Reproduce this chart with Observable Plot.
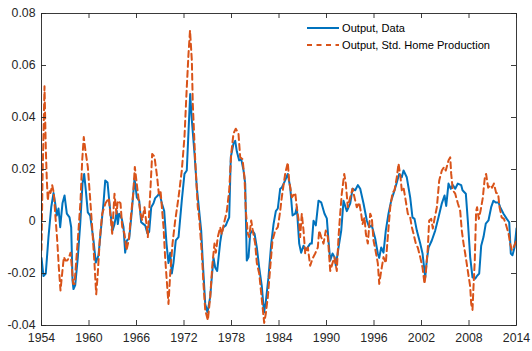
<!DOCTYPE html>
<html>
<head>
<meta charset="utf-8">
<script src="https://cdn.jsdelivr.net/npm/d3@7"></script>
<script src="https://cdn.jsdelivr.net/npm/@observablehq/plot@0.6"></script>
<style>
  html, body { margin: 0; padding: 0; background: #fff; }
  #wrap { position: relative; width: 532px; height: 351px; }
  #legend { position: absolute; left: 306px; top: 19px; font-family: "Liberation Sans", Arial, sans-serif; font-size: 11.1px; color: #000; }
  #legend .row { display: flex; align-items: center; height: 17px; }
  #legend svg { display: block; margin-right: 2px; }
</style>
</head>
<body>
<div id="wrap"><div id="legend"></div></div>
<script>
// Series: Output, Data (year, deviation)
const dataYears = [1954.00,1954.25,1954.54,1954.88,1955.23,1955.52,1955.73,1955.93,1956.15,1956.36,1956.65,1956.91,1957.20,1957.54,1957.75,1957.92,1958.04,1958.26,1958.59,1958.89,1959.18,1959.39,1959.60,1959.85,1960.15,1960.57,1960.86,1961.20,1961.54,1961.83,1962.05,1962.34,1962.68,1962.97,1963.22,1963.51,1963.64,1963.81,1964.14,1964.36,1964.57,1964.78,1965.08,1965.41,1965.75,1966.04,1966.34,1966.59,1966.88,1967.10,1967.39,1967.60,1967.86,1968.15,1968.36,1968.69,1968.91,1969.20,1969.50,1969.79,1970.04,1970.26,1970.46,1970.67,1970.96,1971.31,1971.72,1972.06,1972.35,1972.78,1972.99,1973.33,1973.62,1973.92,1974.17,1974.38,1974.68,1974.97,1975.31,1975.51,1975.73,1975.94,1976.19,1976.57,1976.78,1976.99,1977.28,1977.53,1977.71,1977.91,1978.25,1978.47,1978.67,1978.97,1979.23,1979.52,1979.73,1979.93,1980.15,1980.36,1980.65,1980.91,1981.20,1981.50,1981.83,1982.11,1982.33,1982.67,1983.02,1983.31,1983.60,1983.85,1984.15,1984.35,1984.78,1985.11,1985.42,1985.71,1986.05,1986.25,1986.55,1986.80,1987.10,1987.39,1987.94,1988.14,1988.36,1988.65,1988.99,1989.33,1989.75,1990.04,1990.25,1990.47,1990.76,1991.01,1991.18,1991.52,1991.86,1992.15,1992.57,1993.00,1993.29,1993.63,1993.96,1994.26,1994.67,1995.09,1995.39,1995.72,1996.15,1996.48,1996.66,1996.91,1997.20,1997.49,1997.83,1998.17,1998.46,1998.88,1999.18,1999.51,1999.73,2000.14,2000.57,2000.86,2001.12,2001.41,2001.84,2002.13,2002.47,2002.67,2002.89,2003.30,2003.73,2004.15,2004.57,2004.91,2005.12,2005.41,2005.70,2005.96,2006.26,2006.59,2007.01,2007.18,2007.60,2007.85,2008.15,2008.44,2008.78,2008.99,2009.29,2009.54,2009.83,2010.12,2010.46,2010.80,2011.09,2011.38,2011.73,2011.94,2012.36,2012.77,2013.08,2013.28,2013.49,2013.75,2014.00];
const dataValues = [-0.014,-0.021,-0.020,-0.006,0.0055,0.011,0.007,0.0023,0.005,-0.0022,0.007,0.010,0.003,0.0016,-0.0022,-0.0227,-0.026,-0.0245,-0.0137,-0.001,0.0146,0.0183,0.012,0.0035,0.0023,-0.0073,-0.0158,-0.013,-0.002,0.007,0.0158,0.015,0.004,-0.0035,-0.001,0.004,-0.001,0.003,0.001,-0.0022,-0.012,-0.0073,-0.0065,0.004,0.0165,0.0093,0.008,-0.0003,-0.001,-0.0015,-0.0047,-0.004,0.0055,0.007,0.009,0.010,0.011,0.007,0.004,-0.0085,-0.016,-0.012,-0.020,-0.016,-0.0073,-0.006,0.008,0.0183,0.0196,0.049,0.039,0.026,0.013,0.004,-0.0035,-0.016,-0.0317,-0.035,-0.029,-0.0215,-0.014,-0.0177,-0.019,-0.008,-0.004,-0.0022,-0.0015,0.0004,0.0016,0.0247,0.030,0.031,0.027,0.0235,0.024,0.0196,0.0146,-0.015,-0.0137,-0.0047,-0.0035,-0.0047,-0.010,-0.0177,-0.025,-0.035,-0.031,-0.0215,-0.0085,-0.001,0.004,0.005,0.0126,0.013,0.0158,0.0183,0.013,0.0023,0.003,0.0055,-0.0085,-0.012,-0.0093,-0.011,-0.0085,-0.0085,0.0003,-0.0015,0.008,0.0074,0.003,0.0012,-0.0073,-0.015,-0.0123,-0.0137,-0.017,-0.010,-0.0035,0.008,0.004,0.007,0.0126,0.012,0.014,0.0126,0.007,0.0004,-0.0022,-0.0015,-0.0065,-0.0123,-0.014,-0.010,-0.012,-0.0035,0.003,0.008,0.0107,0.015,0.0183,0.017,0.0196,0.017,0.0093,0.0016,0.001,-0.0035,-0.0085,-0.0123,-0.0215,-0.015,-0.010,-0.0073,-0.0035,0.0016,0.007,0.010,0.006,0.0146,0.0126,0.014,0.0126,0.0146,0.014,0.012,0.0107,0.0004,-0.0137,-0.0215,-0.022,-0.021,-0.020,-0.0093,-0.006,-0.0008,0.0004,0.0055,0.008,0.0073,0.0073,0.0055,0.003,0.001,-0.0003,-0.0123,-0.013,-0.010,-0.0027];

// Series: Output, Std. Home Production (year, deviation)
const homeYears = [1954.00,1954.13,1954.38,1954.54,1954.67,1954.80,1954.92,1955.14,1955.35,1955.55,1955.77,1955.98,1956.19,1956.40,1956.61,1956.82,1957.03,1957.25,1957.45,1957.66,1957.79,1958.00,1958.17,1958.59,1958.93,1959.14,1959.34,1959.56,1959.85,1960.10,1960.40,1960.69,1960.91,1961.11,1961.36,1961.67,1962.08,1962.50,1962.93,1963.22,1963.47,1963.64,1963.98,1964.19,1964.48,1964.74,1965.03,1965.33,1965.58,1965.79,1966.09,1966.29,1966.51,1966.72,1967.01,1967.26,1967.43,1967.77,1967.98,1968.27,1968.61,1968.82,1969.03,1969.22,1969.41,1969.62,1969.83,1970.04,1970.26,1970.55,1970.89,1971.31,1971.72,1972.06,1972.35,1972.57,1972.76,1972.99,1973.11,1973.42,1973.74,1973.92,1974.25,1974.46,1974.68,1975.01,1975.31,1975.60,1975.85,1976.02,1976.27,1976.57,1976.78,1976.99,1977.41,1977.71,1977.96,1978.25,1978.54,1978.88,1979.10,1979.39,1979.64,1979.81,1980.06,1980.23,1980.49,1980.69,1980.99,1981.20,1981.50,1981.83,1982.13,1982.33,1982.59,1982.89,1983.18,1983.52,1983.85,1984.15,1984.35,1984.78,1985.11,1985.28,1985.62,1986.05,1986.25,1986.55,1986.67,1986.88,1987.10,1987.31,1987.64,1987.94,1988.23,1988.57,1988.90,1989.08,1989.33,1989.62,1989.91,1990.17,1990.47,1990.76,1991.01,1991.30,1991.52,1991.73,1991.93,1992.24,1992.44,1992.69,1993.00,1993.29,1993.63,1993.83,1994.13,1994.38,1994.55,1994.80,1994.97,1995.22,1995.52,1995.72,1995.94,1996.15,1996.48,1996.66,1996.91,1997.20,1997.49,1997.74,1998.05,1998.34,1998.59,1998.88,1999.10,1999.35,1999.51,1999.73,1999.94,2000.27,2000.57,2000.78,2000.99,2001.28,2001.53,2001.84,2002.13,2002.38,2002.54,2002.80,2002.97,2003.23,2003.43,2003.64,2003.94,2004.24,2004.57,2004.87,2005.07,2005.41,2005.63,2005.75,2005.96,2006.26,2006.59,2006.89,2007.09,2007.31,2007.52,2007.85,2008.15,2008.28,2008.44,2008.57,2008.73,2008.90,2009.02,2009.24,2009.45,2009.74,2010.00,2010.16,2010.42,2010.72,2010.92,2011.14,2011.43,2011.68,2011.86,2012.12,2012.41,2012.65,2013.00,2013.20,2013.41,2013.62,2013.83,2014.00];
const homeValues = [-0.011,0.016,0.052,0.0285,0.016,0.008,0.012,0.011,0.014,0.011,0.0015,-0.007,-0.0177,-0.0265,-0.020,-0.0137,-0.015,-0.015,-0.014,-0.012,-0.016,-0.024,-0.024,-0.007,0.008,0.0235,0.0325,0.027,0.021,0.0107,-0.0022,-0.016,-0.028,-0.020,-0.007,0.003,0.007,0.009,-0.0047,0.0107,0.003,0.008,0.007,-0.002,-0.0047,-0.011,-0.007,0.003,0.0107,0.021,0.013,0.008,0.003,0.0004,0.0055,-0.001,-0.006,0.013,0.026,0.025,0.017,0.0107,0.012,0.005,-0.002,-0.014,-0.023,-0.0317,-0.020,-0.0085,0.0004,0.0093,0.0196,0.0325,0.0516,0.0645,0.0735,0.062,0.0453,0.0235,0.0055,0.0015,-0.0123,-0.024,-0.034,-0.038,-0.029,-0.016,-0.0085,-0.012,-0.006,-0.0022,-0.005,-0.0015,0.004,0.012,0.026,0.0338,0.0357,0.0338,0.0247,0.024,0.017,0.004,-0.0047,-0.006,0.0004,-0.0035,-0.0085,-0.016,-0.020,-0.030,-0.039,-0.0355,-0.029,-0.0177,-0.0073,-0.0035,-0.0022,0.004,0.0093,0.0183,0.0227,0.0158,0.0093,0.011,0.0055,-0.001,-0.006,0.003,-0.0035,-0.0123,-0.010,-0.017,-0.0143,-0.0123,-0.010,-0.0035,-0.006,-0.0085,-0.0035,-0.006,-0.019,-0.016,-0.0137,-0.019,-0.006,0.003,0.0107,0.0183,0.0146,0.0055,0.0093,0.0126,0.008,0.0055,0.0073,0.003,-0.001,0.0016,-0.0047,-0.0085,0.003,0.0015,-0.0073,-0.0105,-0.016,-0.024,-0.019,-0.0137,-0.016,-0.006,0.0055,0.011,0.012,0.017,0.0223,0.017,0.012,0.013,0.0093,0.003,0.0016,-0.0022,-0.0047,-0.0085,-0.010,-0.0137,-0.0177,-0.024,-0.020,-0.010,0.0004,0.001,-0.0027,0.001,0.0055,0.0158,0.0196,0.021,0.0196,0.0235,0.0247,0.0183,0.012,0.0107,0.007,0.004,-0.0035,-0.0085,-0.0123,-0.019,-0.025,-0.0317,-0.034,-0.025,-0.015,0.004,0.0055,0.001,0.004,0.009,0.017,0.0183,0.013,0.014,0.013,0.0146,0.011,0.0107,0.0055,0.0016,0.001,-0.001,-0.0047,-0.0085,-0.011,-0.010,-0.0085,-0.0073];

const xTicks = [1954, 1960, 1966, 1972, 1978, 1984, 1990, 1996, 2002, 2008, 2014];
const yTicks = [-0.04, -0.02, 0, 0.02, 0.04, 0.06, 0.08];
const yTickLabels = ["-0.04", "-0.02", "0", "0.02", "0.04", "0.06", "0.08"];
const seriesNames = ["Output, Data", "Output, Std. Home Production"];
const seriesColors = ["#0072BD", "#D95319"];

const dataRows = dataYears.map((t, i) => ({t, v: dataValues[i]}));
const homeRows = homeYears.map((t, i) => ({t, v: homeValues[i]}));

const W = 532, H = 351, mL = 41, mR = 16, mT = 13, mB = 26;
const innerH = H - mT - mB, innerW = W - mL - mR;
const tickLen = 5;
const axisColor = "#262626";
const font = "Liberation Sans, Arial, Helvetica, sans-serif";

const chart = Plot.plot({
  width: W, height: H,
  marginLeft: mL, marginRight: mR, marginTop: mT, marginBottom: mB,
  style: {fontFamily: font, fontSize: "12.3px", color: axisColor, background: "#fff"},
  x: {domain: [1954, 2014], ticks: xTicks, label: null},
  y: {domain: [-0.04, 0.08], ticks: yTicks, label: null},
  marks: [
    Plot.line(dataRows, {x: "t", y: "v", stroke: seriesColors[0], strokeWidth: 2, clip: true}),
    Plot.line(homeRows, {x: "t", y: "v", stroke: seriesColors[1], strokeWidth: 2, strokeDasharray: "6,4", clip: true}),
    Plot.frame({stroke: axisColor, strokeWidth: 0.9}),
    // inward tick marks (bottom, top, left, right)
    Plot.tickX(xTicks, {x: d => d, stroke: axisColor, strokeWidth: 0.9, insetTop: innerH - tickLen}),
    Plot.tickX(xTicks, {x: d => d, stroke: axisColor, strokeWidth: 0.9, insetBottom: innerH - tickLen}),
    Plot.tickY(yTicks, {y: d => d, stroke: axisColor, strokeWidth: 0.9, insetRight: innerW - tickLen}),
    Plot.tickY(yTicks, {y: d => d, stroke: axisColor, strokeWidth: 0.9, insetLeft: innerW - tickLen}),
    Plot.axisX({ticks: xTicks, tickSize: 0, tickPadding: 8, tickFormat: d => String(d), fill: axisColor}),
    Plot.axisY({ticks: yTicks, tickSize: 0, tickPadding: 6, tickFormat: d => yTickLabels[yTicks.indexOf(d)], fill: axisColor})
  ]
});
document.getElementById("wrap").prepend(chart);

// legend
const legend = document.getElementById("legend");
seriesNames.forEach((name, i) => {
  const row = document.createElement("div");
  row.className = "row";
  const sw = document.createElementNS("http://www.w3.org/2000/svg", "svg");
  sw.setAttribute("width", 34); sw.setAttribute("height", 6);
  const ln = document.createElementNS("http://www.w3.org/2000/svg", "line");
  ln.setAttribute("x1", 1); ln.setAttribute("x2", 33); ln.setAttribute("y1", 3); ln.setAttribute("y2", 3);
  ln.setAttribute("stroke", seriesColors[i]); ln.setAttribute("stroke-width", 2);
  if (i === 1) ln.setAttribute("stroke-dasharray", "5,4.5");
  sw.appendChild(ln);
  row.appendChild(sw);
  const tx = document.createElement("span");
  tx.textContent = name;
  row.appendChild(tx);
  legend.appendChild(row);
});
</script>
</body>
</html>
